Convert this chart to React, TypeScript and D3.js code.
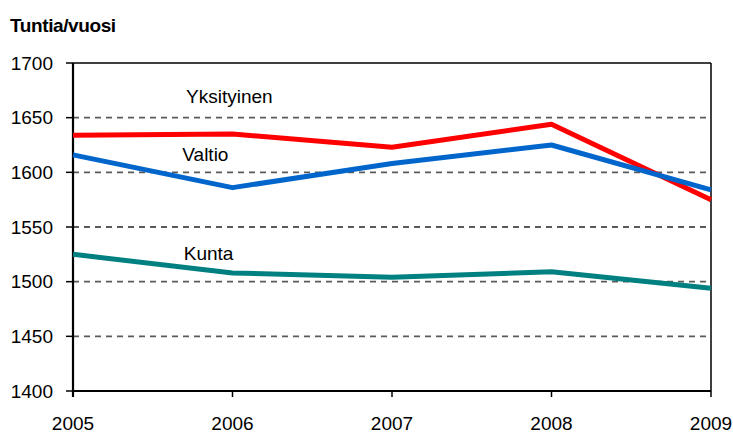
import React from "react";
import * as d3 from "d3";

const years = [2005, 2006, 2007, 2008, 2009];
const yksityinen = [1634, 1635, 1623, 1644, 1575];
const valtio = [1616, 1586, 1608, 1625, 1584];
const kunta = [1525, 1508, 1504, 1509, 1494];
const yTicks = [1400, 1450, 1500, 1550, 1600, 1650, 1700];
const seriesNames = ["Yksityinen", "Valtio", "Kunta"];
const seriesColors = ["#ff0000", "#0066cc", "#008080"];
const labelPos = [
  { year: 2005.98, value: 1669 },
  { year: 2005.83, value: 1616 },
  { year: 2005.85, value: 1526 },
];

export default function App() {
  const W = 733, H = 433;
  const x = d3.scaleLinear().domain([2005, 2009]).range([73, 711]);
  const y = d3.scaleLinear().domain([1400, 1700]).range([391, 63]);
  const line = d3
    .line<number>()
    .x((_, i) => x(years[i]))
    .y((d) => y(d));
  const allSeries = [yksityinen, valtio, kunta];
  const font = "'Liberation Sans', Arial, sans-serif";
  return (
    <svg
      width={W}
      height={H}
      style={{ position: "absolute", left: 0, top: 0, background: "#fff" }}
      fontFamily={font}
    >
      <rect x={0} y={0} width={W} height={H} fill="#fff" />
      <text x={10} y={31.5} fontSize={19} fontWeight="bold" letterSpacing={-0.4} fill="#000">
        Tuntia/vuosi
      </text>
      {yTicks.map((t) => (
        <g key={t}>
          {t > 1400 && t < 1700 && (
            <line
              x1={x(2005)}
              x2={x(2009)}
              y1={y(t)}
              y2={y(t)}
              stroke="#5a5a5a"
              strokeWidth={1.8}
              strokeDasharray="6,5"
            />
          )}
          <line x1={66} x2={x(2005)} y1={y(t)} y2={y(t)} stroke="#000" strokeWidth={1.5} />
          <text
            x={53}
            y={y(t)}
            fontSize={19}
            textAnchor="end"
            dominantBaseline="central"
            fill="#000"
          >
            {t}
          </text>
        </g>
      ))}
      <line x1={x(2005)} x2={x(2009)} y1={y(1700)} y2={y(1700)} stroke="#000" strokeWidth={1.5} />
      <line x1={x(2009)} x2={x(2009)} y1={y(1700)} y2={y(1400)} stroke="#000" strokeWidth={1.5} />
      <line x1={x(2005)} x2={x(2009)} y1={y(1400)} y2={y(1400)} stroke="#000" strokeWidth={1.8} />
      {years.map((yr) => (
        <g key={yr}>
          <line x1={x(yr)} x2={x(yr)} y1={y(1400)} y2={y(1400) + 6} stroke="#000" strokeWidth={1.5} />
          <text x={x(yr)} y={430} fontSize={19} textAnchor="middle" fill="#000">
            {yr}
          </text>
        </g>
      ))}
      <line x1={x(2005)} x2={x(2005)} y1={y(1700)} y2={y(1400) + 6} stroke="#000" strokeWidth={2.2} />
      {allSeries.map((s, i) => (
        <path
          key={seriesNames[i]}
          d={line(s) || ""}
          fill="none"
          stroke={seriesColors[i]}
          strokeWidth={5}
          strokeLinejoin="round"
        />
      ))}
      {seriesNames.map((n, i) => (
        <text
          key={n}
          x={x(labelPos[i].year)}
          y={y(labelPos[i].value)}
          fontSize={19}
          textAnchor="middle"
          dominantBaseline="central"
          fill="#000"
        >
          {n}
        </text>
      ))}
    </svg>
  );
}
